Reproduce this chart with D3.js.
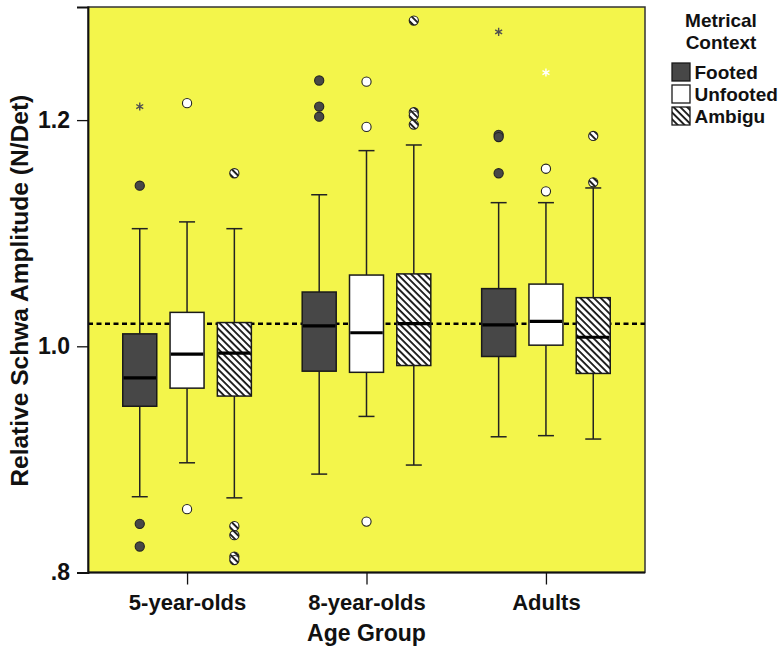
<!DOCTYPE html>
<html>
<head>
<meta charset="utf-8">
<script src="https://cdn.jsdelivr.net/npm/d3@7"></script>
<style>
  html, body { margin: 0; padding: 0; background: #fff; }
  svg { display: block; }
  text { font-family: "Liberation Sans", Arial, Helvetica, sans-serif; font-weight: bold; fill: #111; }
</style>
</head>
<body>
<svg id="chart" width="780" height="650"></svg>
<script>
// ---------- DATA ----------
const groups = ["5-year-olds", "8-year-olds", "Adults"];
const contexts = ["Footed", "Unfooted", "Ambigu"];
// rows = groups, columns = contexts
const whiskerLow  = [[0.867, 0.897, 0.866], [0.887, 0.938, 0.895], [0.920, 0.921, 0.918]];
const q1          = [[0.947, 0.963, 0.956], [0.978, 0.977, 0.983], [0.991, 1.001, 0.976]];
const median      = [[0.972, 0.993, 0.994], [1.018, 1.012, 1.020], [1.019, 1.022, 1.008]];
const q3          = [[1.011, 1.030, 1.021], [1.048, 1.063, 1.064], [1.051, 1.055, 1.043]];
const whiskerHigh = [[1.104, 1.110, 1.104], [1.134, 1.173, 1.178], [1.127, 1.127, 1.140]];
// [group, context, value]
const outliers = [
  ["5-year-olds", "Footed", 1.142], ["5-year-olds", "Footed", 0.843], ["5-year-olds", "Footed", 0.823],
  ["5-year-olds", "Unfooted", 1.215], ["5-year-olds", "Unfooted", 0.856],
  ["5-year-olds", "Ambigu", 1.153], ["5-year-olds", "Ambigu", 0.841], ["5-year-olds", "Ambigu", 0.833],
  ["5-year-olds", "Ambigu", 0.814], ["5-year-olds", "Ambigu", 0.811],
  ["8-year-olds", "Footed", 1.235], ["8-year-olds", "Footed", 1.212], ["8-year-olds", "Footed", 1.203],
  ["8-year-olds", "Unfooted", 1.234], ["8-year-olds", "Unfooted", 1.194], ["8-year-olds", "Unfooted", 0.845],
  ["8-year-olds", "Ambigu", 1.288], ["8-year-olds", "Ambigu", 1.207], ["8-year-olds", "Ambigu", 1.204],
  ["8-year-olds", "Ambigu", 1.196],
  ["Adults", "Footed", 1.187], ["Adults", "Footed", 1.185], ["Adults", "Footed", 1.153],
  ["Adults", "Unfooted", 1.157], ["Adults", "Unfooted", 1.137],
  ["Adults", "Ambigu", 1.186], ["Adults", "Ambigu", 1.145]
];
const extremes = [
  ["5-year-olds", "Footed", 1.212],
  ["Adults", "Footed", 1.278],
  ["Adults", "Unfooted", 1.242]
];
const referenceValue = 1.02;
const yTicks = [0.8, 1.0, 1.2];
const yTickLabels = [".8", "1.0", "1.2"];
const yDomain = [0.8, 1.3];
const yTitle = "Relative Schwa Amplitude (N/Det)";
const xTitle = "Age Group";
const legendTitle = ["Metrical", "Context"];

// ---------- STYLE ----------
const W = 780, H = 650;
const plot = { left: 88, top: 7, right: 645, bottom: 572.5 };
const bg = "#f3f54b";
const fills = { Footed: "#474747", Unfooted: "#ffffff", Ambigu: "url(#hatch)" };
const starColors = { Footed: "#505050", Unfooted: "#ffffff", Ambigu: "#505050" };
const boxW = 34;

const svg = d3.select("#chart");
const defs = svg.append("defs");
const pat = defs.append("pattern")
  .attr("id", "hatch").attr("patternUnits", "userSpaceOnUse")
  .attr("width", 4.8).attr("height", 4.8)
  .attr("patternTransform", "rotate(-45)");
pat.append("rect").attr("width", 4.8).attr("height", 4.8).attr("fill", "#fff");
pat.append("line").attr("x1", 1).attr("y1", -1).attr("x2", 1).attr("y2", 6)
  .attr("stroke", "#111").attr("stroke-width", 1.8);

// ---------- SCALES ----------
const y = d3.scaleLinear().domain(yDomain).range([plot.bottom, plot.top]);
const x = d3.scalePoint().domain(groups).range([plot.left, plot.right]).padding(0.552);
const xo = d3.scalePoint().domain(contexts).range([-47.3, 47.3]);

// background
svg.append("rect").attr("x", plot.left).attr("y", plot.top)
  .attr("width", plot.right - plot.left).attr("height", plot.bottom - plot.top)
  .attr("fill", bg).attr("stroke", "#333").attr("stroke-width", 1.5);

// reference dashed line
svg.append("line")
  .attr("x1", plot.left).attr("x2", plot.right)
  .attr("y1", y(referenceValue)).attr("y2", y(referenceValue))
  .attr("stroke", "#000").attr("stroke-width", 2.5).attr("stroke-dasharray", "5,3.5");

// boxes
const boxes = [];
groups.forEach((g, gi) => contexts.forEach((c, ci) => {
  boxes.push({ g, c, lo: whiskerLow[gi][ci], q1: q1[gi][ci], med: median[gi][ci], q3: q3[gi][ci], hi: whiskerHigh[gi][ci] });
}));

const bx = svg.append("g").selectAll("g").data(boxes).join("g")
  .attr("transform", d => `translate(${x(d.g) + xo(d.c)},0)`);
bx.append("line").attr("x1", 0).attr("x2", 0).attr("y1", d => y(d.hi)).attr("y2", d => y(d.q3))
  .attr("stroke", "#222").attr("stroke-width", 1.5);
bx.append("line").attr("x1", 0).attr("x2", 0).attr("y1", d => y(d.q1)).attr("y2", d => y(d.lo))
  .attr("stroke", "#222").attr("stroke-width", 1.5);
bx.append("line").attr("x1", -8).attr("x2", 8).attr("y1", d => y(d.hi)).attr("y2", d => y(d.hi))
  .attr("stroke", "#222").attr("stroke-width", 1.5);
bx.append("line").attr("x1", -8).attr("x2", 8).attr("y1", d => y(d.lo)).attr("y2", d => y(d.lo))
  .attr("stroke", "#222").attr("stroke-width", 1.5);
bx.append("rect").attr("x", -boxW / 2).attr("width", boxW)
  .attr("y", d => y(d.q3)).attr("height", d => y(d.q1) - y(d.q3))
  .attr("fill", d => fills[d.c]).attr("stroke", "#1a1a1a").attr("stroke-width", 1.5);
bx.append("line").attr("x1", -boxW / 2 + 0.75).attr("x2", boxW / 2 - 0.75)
  .attr("y1", d => y(d.med)).attr("y2", d => y(d.med))
  .attr("stroke", "#000").attr("stroke-width", 3.2);

// outliers
svg.append("g").selectAll("circle").data(outliers).join("circle")
  .attr("cx", d => x(d[0]) + xo(d[1])).attr("cy", d => y(d[2])).attr("r", 4.6)
  .attr("fill", d => fills[d[1]]).attr("stroke", "#222").attr("stroke-width", 1.1);

// extremes (stars)
const star = d3.symbol().type(d3.symbolAsterisk).size(45);
svg.append("g").selectAll("path").data(extremes).join("path")
  .attr("transform", d => `translate(${x(d[0]) + xo(d[1])},${y(d[2])})`)
  .attr("d", star).attr("fill", "none")
  .attr("stroke", d => starColors[d[1]]).attr("stroke-width", 1.4);

// y axis
const yAxis = d3.axisLeft(y).tickValues(yTicks)
  .tickFormat((d, i) => yTickLabels[i]).tickSize(11).tickPadding(7);
const ya = svg.append("g").attr("transform", `translate(${plot.left},0)`).call(yAxis);
ya.select(".domain").attr("stroke", "#111").attr("stroke-width", 1.8);
ya.selectAll(".tick line").attr("stroke", "#111").attr("stroke-width", 1.3);
ya.selectAll(".tick text").attr("font-size", 23).attr("font-family", "Liberation Sans, Arial, sans-serif")
  .attr("font-weight", "bold").attr("fill", "#111");

// x axis
const xAxis = d3.axisBottom(x).tickSize(12).tickPadding(10).tickSizeOuter(0);
const xa = svg.append("g").attr("transform", `translate(0,${plot.bottom})`).call(xAxis);
xa.select(".domain").remove();
xa.append("line").attr("x1", plot.left).attr("x2", plot.right).attr("stroke", "#111").attr("stroke-width", 1.8);
xa.selectAll(".tick line").attr("stroke", "#111").attr("stroke-width", 1.3);
xa.selectAll(".tick text").attr("font-size", 22).attr("font-family", "Liberation Sans, Arial, sans-serif")
  .attr("font-weight", "bold").attr("fill", "#111");

// axis titles
svg.append("text").attr("x", (plot.left + plot.right) / 2).attr("y", 641)
  .attr("text-anchor", "middle").attr("font-size", 23).text(xTitle);
svg.append("text").attr("transform", `translate(28,${(plot.top + plot.bottom) / 2 + 1}) rotate(-90)`)
  .attr("text-anchor", "middle").attr("font-size", 24)
  .attr("textLength", 392).attr("lengthAdjust", "spacingAndGlyphs").text(yTitle);

// legend
const lg = svg.append("g");
lg.selectAll("text.title").data(legendTitle).join("text").attr("class", "title")
  .attr("x", 721).attr("y", (d, i) => 26.5 + i * 22)
  .attr("text-anchor", "middle").attr("font-size", 19).text(d => d);
const li = lg.selectAll("g.item").data(contexts).join("g").attr("class", "item")
  .attr("transform", (d, i) => `translate(672,${63 + i * 22})`);
li.append("rect").attr("width", 18).attr("height", 18)
  .attr("fill", d => fills[d]).attr("stroke", "#1a1a1a").attr("stroke-width", 1.3);
li.append("text").attr("x", 22.5).attr("y", 15.5).attr("font-size", 19).text(d => d);
</script>
</body>
</html>
